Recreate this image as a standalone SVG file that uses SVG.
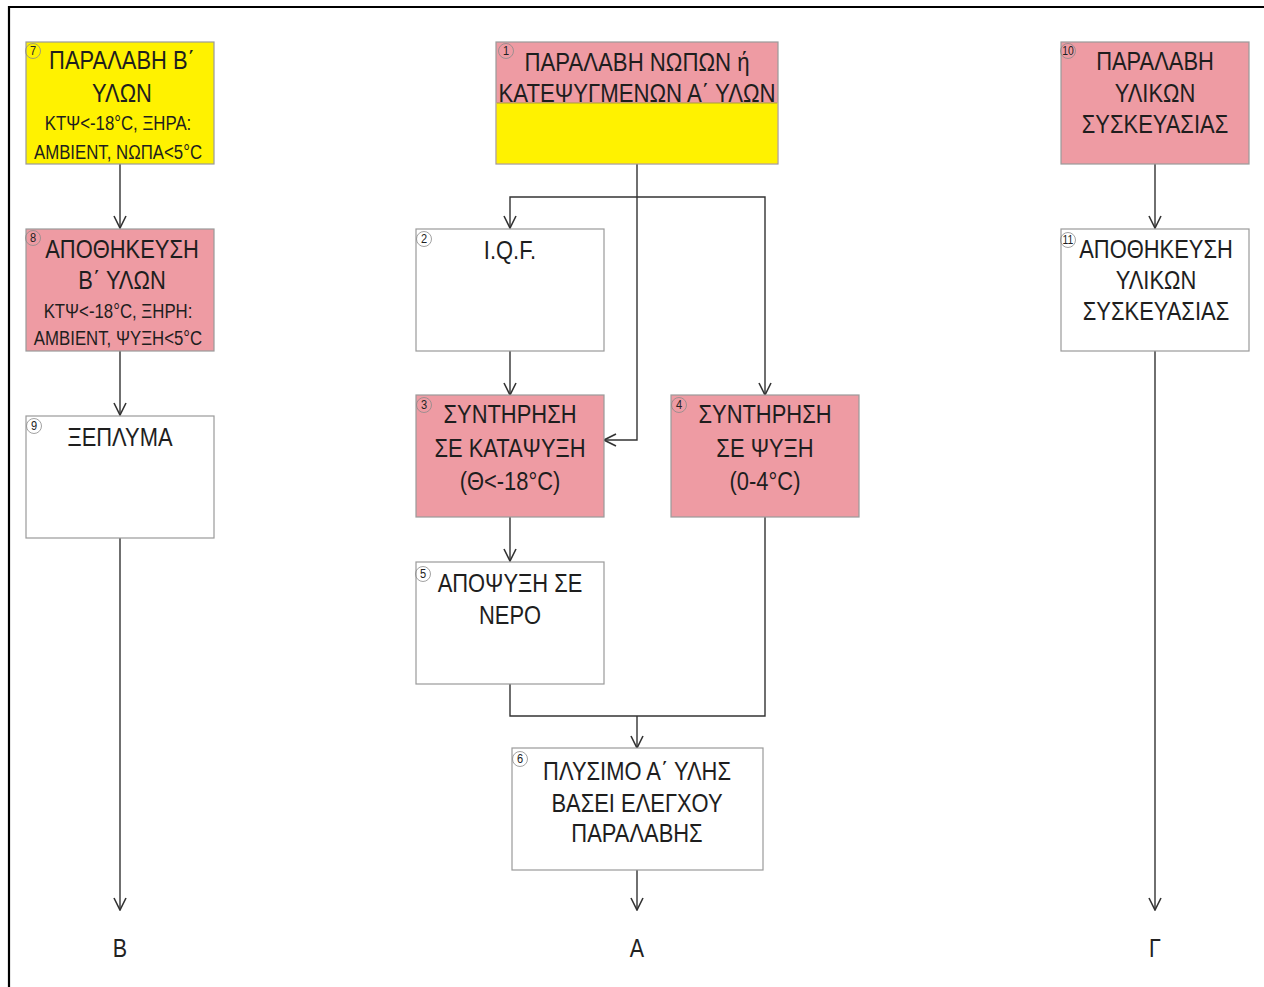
<svg xmlns="http://www.w3.org/2000/svg" width="1264" height="987" viewBox="0 0 1264 987">
<style>
.box{stroke:#9a9a9a;stroke-width:1.2}
.pink{fill:#EE9BA3}
.yellow{fill:#FFF200}
.white{fill:#ffffff}
.t{font-family:"Liberation Sans",Arial,sans-serif;font-size:25.5px;fill:#1e1e1e;text-anchor:middle}
.s{font-family:"Liberation Sans",Arial,sans-serif;font-size:21px;fill:#1e1e1e;text-anchor:middle}
.num{font-family:"Liberation Sans",Arial,sans-serif;font-size:13px;fill:#222;text-anchor:middle}
.nc{fill:none;stroke:#8a8a8a;stroke-width:0.8}
.c{fill:none;stroke:#333;stroke-width:1.4}
.lbl{font-family:"Liberation Sans",Arial,sans-serif;font-size:25px;fill:#222;text-anchor:middle}
</style>
<defs>
<marker id="arr" viewBox="-13 -7 14 14" refX="0" refY="0" markerWidth="14" markerHeight="14" markerUnits="userSpaceOnUse" orient="auto">
<path d="M-12,-6 L0,0 L-12,6" fill="none" stroke="#333" stroke-width="1.6"/>
</marker>
</defs>
<rect width="1264" height="987" fill="#ffffff"/>
<g id="frame">
<line x1="8" y1="7" x2="1264" y2="7" stroke="#000" stroke-width="2.2"/>
<line x1="9" y1="6" x2="9" y2="987" stroke="#000" stroke-width="2.2"/>
</g>

<g id="connectors">
<path class="c" d="M120,164 V228" marker-end="url(#arr)"/>
<path class="c" d="M120,351 V415" marker-end="url(#arr)"/>
<path class="c" d="M120,538 V910" marker-end="url(#arr)"/>
<path class="c" d="M637,164 V440 H604" marker-end="url(#arr)"/>
<path class="c" d="M637,197 H510 V228" marker-end="url(#arr)"/>
<path class="c" d="M637,197 H765 V395" marker-end="url(#arr)"/>
<path class="c" d="M510,351 V395" marker-end="url(#arr)"/>
<path class="c" d="M510,517 V561" marker-end="url(#arr)"/>
<path class="c" d="M510,684 V716 H765 V517"/>
<path class="c" d="M637,716 V748" marker-end="url(#arr)"/>
<path class="c" d="M637,870 V910" marker-end="url(#arr)"/>
<path class="c" d="M1155,164 V228" marker-end="url(#arr)"/>
<path class="c" d="M1155,351 V910" marker-end="url(#arr)"/>
</g>

<g id="n7">
<rect class="box yellow" x="26" y="42" width="188" height="122"/>
<circle class="nc" cx="33" cy="51" r="7.5"/><g transform="translate(33 0) scale(0.85 1)"><text class="num" x="0" y="55.5">7</text></g>
<g transform="translate(122 0) scale(0.86 1)">
<text class="t" x="0" y="69">ΠΑΡΑΛΑΒΗ Β΄</text>
<text class="t" x="0" y="102">ΥΛΩΝ</text>
</g>
<g transform="translate(118 0) scale(0.8 1)">
<text class="s" x="0" y="130">ΚΤΨ&lt;-18°C, ΞΗΡΑ:</text>
<text class="s" x="0" y="159">AMBIENT, ΝΩΠΑ&lt;5°C</text>
</g>
</g>

<g id="n1">
<rect class="box pink" x="496" y="42" width="282" height="122"/>
<rect class="yellow" x="496.6" y="103" width="280.8" height="60.4"/>
<line x1="497" y1="103" x2="777" y2="103" stroke="#a89a3a" stroke-width="1"/>
<circle class="nc" cx="506" cy="51" r="7.5"/><g transform="translate(506 0) scale(0.85 1)"><text class="num" x="0" y="55.5">1</text></g>
<g transform="translate(637 0) scale(0.87 1)">
<text class="t" x="0" y="71">ΠΑΡΑΛΑΒΗ ΝΩΠΩΝ ή</text>
<text class="t" x="0" y="102">ΚΑΤΕΨΥΓΜΕΝΩΝ Α΄ ΥΛΩΝ</text>
</g>
</g>

<g id="n10">
<rect class="box pink" x="1061" y="42" width="188" height="122"/>
<circle class="nc" cx="1068" cy="51" r="7.5"/><g transform="translate(1068 0) scale(0.8 1)"><text class="num" x="0" y="55.5">10</text></g>
<g transform="translate(1155 0) scale(0.86 1)">
<text class="t" x="0" y="70">ΠΑΡΑΛΑΒΗ</text>
<text class="t" x="0" y="102">ΥΛΙΚΩΝ</text>
<text class="t" x="0" y="133">ΣΥΣΚΕΥΑΣΙΑΣ</text>
</g>
</g>

<g id="n8">
<rect class="box pink" x="26" y="229" width="188" height="122"/>
<circle class="nc" cx="33" cy="238" r="7.5"/><g transform="translate(33 0) scale(0.85 1)"><text class="num" x="0" y="242.5">8</text></g>
<g transform="translate(122 0) scale(0.86 1)">
<text class="t" x="0" y="258">ΑΠΟΘΗΚΕΥΣΗ</text>
<text class="t" x="0" y="289">Β΄ ΥΛΩΝ</text>
</g>
<g transform="translate(118 0) scale(0.8 1)">
<text class="s" x="0" y="318">ΚΤΨ&lt;-18°C, ΞΗΡΗ:</text>
<text class="s" x="0" y="345">AMBIENT, ΨΥΞΗ&lt;5°C</text>
</g>
</g>

<g id="n2">
<rect class="box white" x="416" y="229" width="188" height="122"/>
<circle class="nc" cx="424" cy="239" r="7.5"/><g transform="translate(424 0) scale(0.85 1)"><text class="num" x="0" y="243.5">2</text></g>
<g transform="translate(510 0) scale(0.86 1)">
<text class="t" x="0" y="259">I.Q.F.</text>
</g>
</g>

<g id="n11">
<rect class="box white" x="1061" y="229" width="188" height="122"/>
<circle class="nc" cx="1068" cy="240" r="7.5"/><g transform="translate(1068 0) scale(0.8 1)"><text class="num" x="0" y="244.5">11</text></g>
<g transform="translate(1156 0) scale(0.86 1)">
<text class="t" x="0" y="258">ΑΠΟΘΗΚΕΥΣΗ</text>
<text class="t" x="0" y="289">ΥΛΙΚΩΝ</text>
<text class="t" x="0" y="320">ΣΥΣΚΕΥΑΣΙΑΣ</text>
</g>
</g>

<g id="n9">
<rect class="box white" x="26" y="416" width="188" height="122"/>
<circle class="nc" cx="34" cy="426" r="7.5"/><g transform="translate(34 0) scale(0.85 1)"><text class="num" x="0" y="430.5">9</text></g>
<g transform="translate(120 0) scale(0.86 1)">
<text class="t" x="0" y="446">ΞΕΠΛΥΜΑ</text>
</g>
</g>

<g id="n3">
<rect class="box pink" x="416" y="395" width="188" height="122"/>
<circle class="nc" cx="424" cy="405" r="7.5"/><g transform="translate(424 0) scale(0.85 1)"><text class="num" x="0" y="409.5">3</text></g>
<g transform="translate(510 0) scale(0.86 1)">
<text class="t" x="0" y="423">ΣΥΝΤΗΡΗΣΗ</text>
<text class="t" x="0" y="457">ΣΕ ΚΑΤΑΨΥΞΗ</text>
<text class="t" x="0" y="490">(Θ&lt;-18°C)</text>
</g>
</g>

<g id="n4">
<rect class="box pink" x="671" y="395" width="188" height="122"/>
<circle class="nc" cx="679" cy="405" r="7.5"/><g transform="translate(679 0) scale(0.85 1)"><text class="num" x="0" y="409.5">4</text></g>
<g transform="translate(765 0) scale(0.86 1)">
<text class="t" x="0" y="423">ΣΥΝΤΗΡΗΣΗ</text>
<text class="t" x="0" y="457">ΣΕ ΨΥΞΗ</text>
<text class="t" x="0" y="490">(0-4°C)</text>
</g>
</g>

<g id="n5">
<rect class="box white" x="416" y="562" width="188" height="122"/>
<circle class="nc" cx="423" cy="574" r="7.5"/><g transform="translate(423 0) scale(0.85 1)"><text class="num" x="0" y="578.5">5</text></g>
<g transform="translate(510 0) scale(0.86 1)">
<text class="t" x="0" y="592">ΑΠΟΨΥΞΗ ΣΕ</text>
<text class="t" x="0" y="624">ΝΕΡΟ</text>
</g>
</g>

<g id="n6">
<rect class="box white" x="512" y="748" width="251" height="122"/>
<circle class="nc" cx="520" cy="759" r="7.5"/><g transform="translate(520 0) scale(0.85 1)"><text class="num" x="0" y="763.5">6</text></g>
<g transform="translate(637 0) scale(0.86 1)">
<text class="t" x="0" y="780">ΠΛΥΣΙΜΟ Α΄ ΥΛΗΣ</text>
<text class="t" x="0" y="812">ΒΑΣΕΙ ΕΛΕΓΧΟΥ</text>
<text class="t" x="0" y="842">ΠΑΡΑΛΑΒΗΣ</text>
</g>
</g>

<g id="labels">
<g transform="translate(120 0) scale(0.86 1)"><text class="lbl" x="0" y="957">Β</text></g>
<g transform="translate(637 0) scale(0.86 1)"><text class="lbl" x="0" y="957">Α</text></g>
<g transform="translate(1155 0) scale(0.86 1)"><text class="lbl" x="0" y="957">Γ</text></g>
</g>
</svg>
